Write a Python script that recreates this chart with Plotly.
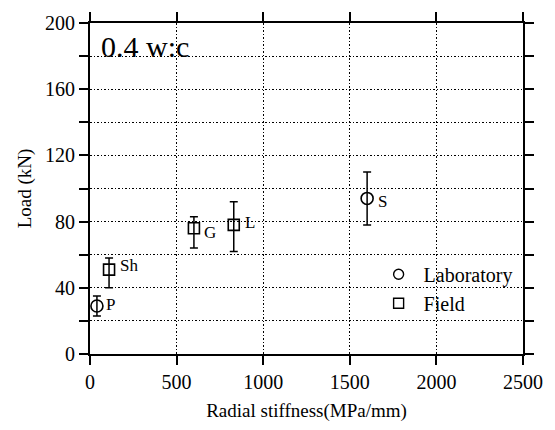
import plotly.graph_objects as go

# Data
lab_names = ["P", "S"]
lab_x = [40, 1600]
lab_y = [29, 94]
lab_err_plus = [6, 16]
lab_err_minus = [6, 16]

field_names = ["Sh", "G", "L"]
field_x = [110, 600, 830]
field_y = [51, 76, 78]
field_err_plus = [7, 7, 14]
field_err_minus = [11, 12, 16]

x_ticks = [0, 500, 1000, 1500, 2000, 2500]
y_ticks = [0, 20, 40, 60, 80, 100, 120, 140, 160, 180, 200]
y_ticktext = ["0", "", "40", "", "80", "", "120", "", "160", "", "200"]

FONT = "Liberation Serif"

fig = go.Figure()

err_style = dict(type="data", symmetric=False, color="black", thickness=1.5, width=4)

fig.add_trace(go.Scatter(
    x=lab_x, y=lab_y, mode="markers", showlegend=False,
    marker=dict(symbol="circle-open", size=12, color="black", line=dict(width=1.6)),
    error_y=dict(array=lab_err_plus, arrayminus=lab_err_minus, **err_style),
))
fig.add_trace(go.Scatter(
    x=field_x, y=field_y, mode="markers", showlegend=False,
    marker=dict(symbol="square-open", size=11, color="black", line=dict(width=1.6)),
    error_y=dict(array=field_err_plus, arrayminus=field_err_minus, **err_style),
))
# legend entries
fig.add_trace(go.Scatter(x=[None], y=[None], mode="markers", name="Laboratory",
                         marker=dict(symbol="circle-open", size=10, color="black", line=dict(width=1.4))))
fig.add_trace(go.Scatter(x=[None], y=[None], mode="markers", name="Field",
                         marker=dict(symbol="square-open", size=10, color="black", line=dict(width=1.4))))

label_offsets = {"P": (14, 2), "S": (15, -3), "Sh": (20, 4), "G": (16, -4), "L": (16, 2)}
for n, x, y in list(zip(lab_names, lab_x, lab_y)) + list(zip(field_names, field_x, field_y)):
    dx, dy = label_offsets[n]
    fig.add_annotation(x=x, y=y, text=n, showarrow=False, xshift=dx, yshift=dy,
                       font=dict(family=FONT, size=17, color="black"))

fig.add_annotation(xref="paper", yref="paper", x=0.02, y=0.985, xanchor="left", yanchor="top",
                   text="0.4 w:c", showarrow=False,
                   font=dict(family=FONT, size=30, color="black"))

axis_common = dict(showline=True, linecolor="black", linewidth=2, mirror="ticks",
                   ticks="outside", ticklen=9, tickwidth=1.5, tickcolor="black",
                   showgrid=True, gridcolor="black", griddash="1.5px,2px", gridwidth=1.3,
                   zeroline=False, tickfont=dict(family=FONT, size=20, color="black"))

fig.update_xaxes(range=[0, 2500], tickvals=x_ticks,
                 title=dict(text="Radial stiffness(MPa/mm)", font=dict(family=FONT, size=19, color="black"), standoff=12),
                 **axis_common)
fig.update_yaxes(range=[0, 200], tickvals=y_ticks, ticktext=y_ticktext,
                 title=dict(text="Load (kN)", font=dict(family=FONT, size=19, color="black"), standoff=8),
                 **axis_common)

fig.update_layout(
    width=555, height=430,
    margin=dict(l=90, r=25, t=18, b=75),
    plot_bgcolor="white", paper_bgcolor="white",
    legend=dict(x=0.655, y=0.30, xanchor="left", yanchor="top", bgcolor="rgba(0,0,0,0)",
                font=dict(family=FONT, size=20, color="black"), itemwidth=40, tracegroupgap=4),
)

fig.write_html("out.html")
